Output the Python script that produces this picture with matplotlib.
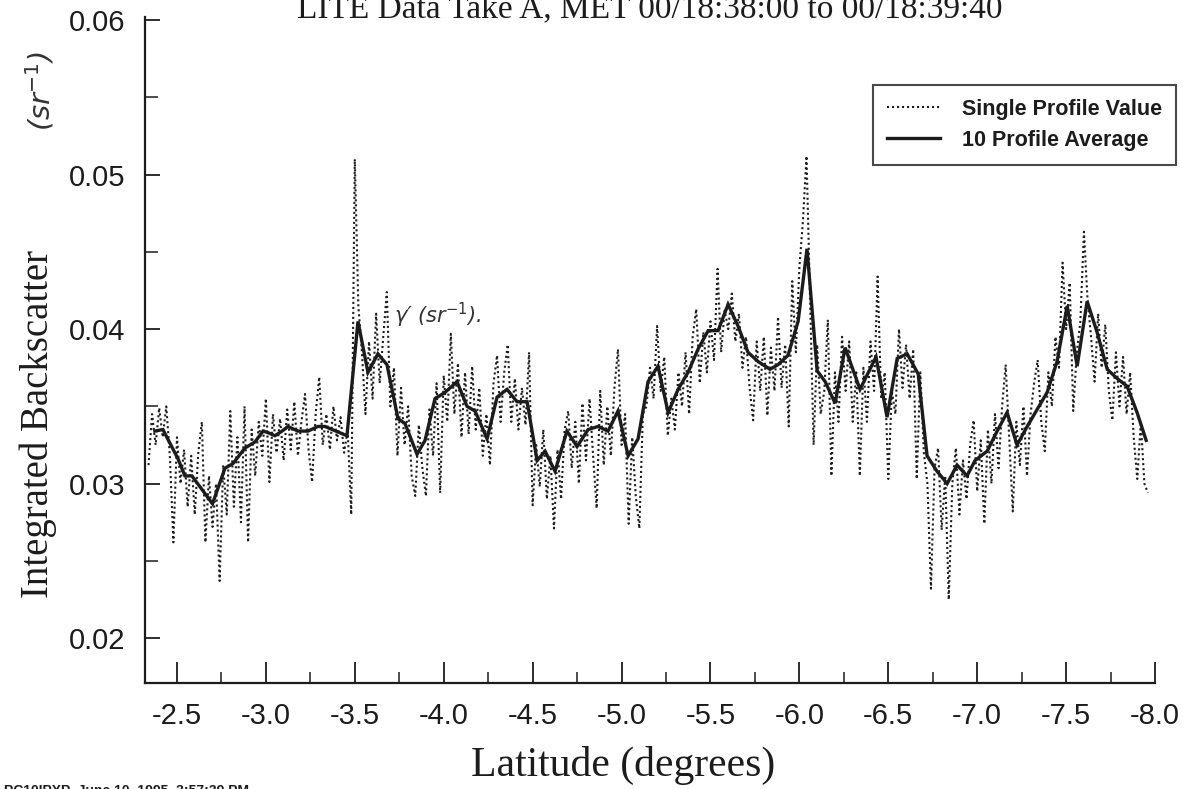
import numpy as np
import matplotlib
matplotlib.use("Agg")
import matplotlib.pyplot as plt
from matplotlib.ticker import MultipleLocator, FormatStrFormatter

# ── Data ─────────────────────────────────────────────────────────────────────
# 10 profile average (solid line)
avg_lat = [-2.376, -2.421, -2.506, -2.545, -2.584, -2.700, -2.770, -2.815, -2.882, -2.939,
           -2.984, -3.012, -3.051, -3.091, -3.124, -3.181, -3.237, -3.293, -3.332, -3.456,
           -3.518, -3.574, -3.630, -3.681, -3.743, -3.782, -3.850, -3.895, -3.951, -4.007,
           -4.075, -4.131, -4.176, -4.244, -4.300, -4.356, -4.412, -4.469, -4.525, -4.570,
           -4.626, -4.693, -4.750, -4.812, -4.868, -4.924, -4.980, -5.037, -5.093, -5.149,
           -5.205, -5.262, -5.318, -5.374, -5.430, -5.487, -5.543, -5.599, -5.655, -5.711,
           -5.768, -5.835, -5.880, -5.936, -5.993, -6.043, -6.100, -6.145, -6.201, -6.257,
           -6.341, -6.431, -6.493, -6.550, -6.606, -6.668, -6.718, -6.774, -6.831, -6.887,
           -6.943, -6.988, -7.056, -7.112, -7.168, -7.224, -7.281, -7.337, -7.393, -7.449,
           -7.506, -7.562, -7.618, -7.674, -7.731, -7.787, -7.843, -7.899, -7.950]
avg_val = [0.0334, 0.0335, 0.0316, 0.0305, 0.0305, 0.0287, 0.0310, 0.0313, 0.0323, 0.0327,
           0.0334, 0.0333, 0.0331, 0.0334, 0.0337, 0.0334, 0.0334, 0.0337, 0.0337, 0.0331,
           0.0405, 0.0372, 0.0384, 0.0377, 0.0342, 0.0339, 0.0319, 0.0328, 0.0355, 0.0359,
           0.0366, 0.0350, 0.0347, 0.0329, 0.0356, 0.0361, 0.0353, 0.0353, 0.0315, 0.0321,
           0.0308, 0.0334, 0.0324, 0.0335, 0.0337, 0.0334, 0.0347, 0.0318, 0.0329, 0.0366,
           0.0376, 0.0346, 0.0361, 0.0372, 0.0387, 0.0399, 0.0399, 0.0416, 0.0402, 0.0385,
           0.0379, 0.0374, 0.0377, 0.0383, 0.0405, 0.0452, 0.0373, 0.0366, 0.0352, 0.0388,
           0.0361, 0.0382, 0.0343, 0.0381, 0.0384, 0.0371, 0.0318, 0.0308, 0.0300, 0.0312,
           0.0305, 0.0315, 0.0321, 0.0334, 0.0346, 0.0325, 0.0337, 0.0348, 0.0359, 0.0379,
           0.0415, 0.0376, 0.0418, 0.0398, 0.0374, 0.0368, 0.0363, 0.0346, 0.0328]

# single profile values (dotted line), one every 0.02 deg from -2.34 to -7.96
single_val = [
    0.0312, 0.0345, 0.0325, 0.0349, 0.0330, 0.0350, 0.0318, 0.0262, 0.0330, 0.0300,
    0.0322, 0.0285, 0.0318, 0.0280, 0.0320, 0.0340, 0.0262, 0.0305, 0.0272, 0.0300,
    0.0237, 0.0312, 0.0280, 0.0347, 0.0285, 0.0330, 0.0275, 0.0350, 0.0262, 0.0335,
    0.0305, 0.0340, 0.0318, 0.0355, 0.0301, 0.0345, 0.0320, 0.0342, 0.0315, 0.0348,
    0.0322, 0.0353, 0.0318, 0.0340, 0.0358, 0.0322, 0.0301, 0.0345, 0.0369, 0.0325,
    0.0345, 0.0322, 0.0350, 0.0328, 0.0343, 0.0320, 0.0335, 0.0280, 0.0510, 0.0415,
    0.0385, 0.0345, 0.0392, 0.0355, 0.0410, 0.0365, 0.0395, 0.0424, 0.0350, 0.0375,
    0.0318, 0.0362, 0.0325, 0.0350, 0.0305, 0.0292, 0.0338, 0.0310, 0.0292, 0.0348,
    0.0318, 0.0365, 0.0294, 0.0370, 0.0340, 0.0397, 0.0345, 0.0378, 0.0330, 0.0372,
    0.0332, 0.0376, 0.0335, 0.0362, 0.0318, 0.0345, 0.0312, 0.0365, 0.0383, 0.0340,
    0.0372, 0.0390, 0.0340, 0.0368, 0.0335, 0.0362, 0.0338, 0.0385, 0.0286, 0.0325,
    0.0298, 0.0335, 0.0290, 0.0318, 0.0271, 0.0322, 0.0290, 0.0335, 0.0347, 0.0310,
    0.0340, 0.0300, 0.0352, 0.0315, 0.0355, 0.0318, 0.0284, 0.0360, 0.0312, 0.0350,
    0.0318, 0.0362, 0.0387, 0.0325, 0.0345, 0.0274, 0.0330, 0.0292, 0.0271, 0.0345,
    0.0350, 0.0375, 0.0355, 0.0402, 0.0360, 0.0382, 0.0331, 0.0355, 0.0335, 0.0372,
    0.0350, 0.0385, 0.0345, 0.0395, 0.0413, 0.0365, 0.0398, 0.0372, 0.0405, 0.0380,
    0.0439, 0.0385, 0.0412, 0.0400, 0.0423, 0.0392, 0.0410, 0.0375, 0.0395, 0.0362,
    0.0341, 0.0392, 0.0360, 0.0395, 0.0344, 0.0388, 0.0360, 0.0408, 0.0362, 0.0390,
    0.0337, 0.0431, 0.0385, 0.0440, 0.0470, 0.0512, 0.0420, 0.0325, 0.0390, 0.0345,
    0.0360, 0.0406, 0.0305, 0.0372, 0.0340, 0.0395, 0.0360, 0.0392, 0.0340, 0.0372,
    0.0305, 0.0375, 0.0340, 0.0392, 0.0360, 0.0434, 0.0355, 0.0372, 0.0303, 0.0360,
    0.0345, 0.0400, 0.0362, 0.0390, 0.0355, 0.0387, 0.0303, 0.0372, 0.0320, 0.0300,
    0.0232, 0.0310, 0.0323, 0.0270, 0.0305, 0.0225, 0.0300, 0.0323, 0.0280, 0.0315,
    0.0290, 0.0325, 0.0341, 0.0295, 0.0328, 0.0274, 0.0335, 0.0300, 0.0345, 0.0310,
    0.0350, 0.0377, 0.0330, 0.0282, 0.0340, 0.0312, 0.0350, 0.0305, 0.0345, 0.0365,
    0.0380, 0.0340, 0.0321, 0.0372, 0.0350, 0.0395, 0.0375, 0.0443, 0.0400, 0.0430,
    0.0347, 0.0385, 0.0405, 0.0463, 0.0420, 0.0395, 0.0366, 0.0410, 0.0375, 0.0403,
    0.0360, 0.0341, 0.0385, 0.0350, 0.0382, 0.0345, 0.0372, 0.0330, 0.0303, 0.0340,
    0.0300, 0.0294,
]
single_lat = np.linspace(-2.34, -7.96, len(single_val))

TITLE = "LITE Data Take A, MET 00/18:38:00 to 00/18:39:40"
FOOTER = "PC10IPXP  June 10, 1995  3:57:39 PM"

INK = "#1c1c1c"

# ── Figure ───────────────────────────────────────────────────────────────────
fig = plt.figure(figsize=(11.92, 7.89), dpi=100, facecolor="white")
ax = fig.add_axes([0.1216, 0.1344, 0.8474, 0.8441])

ax.plot(single_lat, single_val, color=INK, lw=1.5, ls=(0, (1, 1.4)),
        label="Single Profile Value")
ax.plot(avg_lat, avg_val, color=INK, lw=2.4, solid_joinstyle="miter",
        label="10 Profile Average")

ax.set_xlim(-2.32, -8.0)
ax.set_ylim(0.0171, 0.0602)

for side in ("top", "right"):
    ax.spines[side].set_visible(False)
for side in ("left", "bottom"):
    ax.spines[side].set_linewidth(1.6)
    ax.spines[side].set_color(INK)

ax.xaxis.set_major_locator(MultipleLocator(0.5))
ax.xaxis.set_minor_locator(MultipleLocator(0.25))
ax.yaxis.set_major_locator(MultipleLocator(0.01))
ax.yaxis.set_minor_locator(MultipleLocator(0.005))
ax.xaxis.set_major_formatter(FormatStrFormatter("%.1f"))
ax.yaxis.set_major_formatter(FormatStrFormatter("%.2f"))

ax.tick_params(axis="x", which="major", direction="in", length=15, width=1.3,
               pad=14, labelsize=21, colors=INK)
ax.tick_params(axis="x", which="minor", direction="in", length=8, width=1.1, colors=INK)
ax.tick_params(axis="y", which="major", direction="in", length=11, width=1.3,
               pad=14, labelsize=21, colors=INK)
ax.tick_params(axis="y", which="minor", direction="in", length=9, width=1.1, colors=INK)
for lab in ax.get_xticklabels() + ax.get_yticklabels():
    lab.set_family("Liberation Sans")

# legend
leg = ax.legend(loc="upper right", bbox_to_anchor=(1.0208, 0.898), borderaxespad=0,
                frameon=True, fancybox=False, edgecolor=INK, handlelength=2.5,
                handletextpad=1.0, labelspacing=0.45, borderpad=0.65,
                prop={"family": "Liberation Sans", "weight": "bold", "size": 15.5})
leg.get_frame().set_linewidth(1.5)
for t in leg.get_texts():
    t.set_color(INK)

# handwritten note
ax.text(-3.72, 0.0409, "γ′ (sr$^{-1}$).", fontsize=15, family="DejaVu Sans",
        style="italic", color="#333333", ha="left", va="center")

# titles / labels
fig.text(0.545, 1 - 18 / 789, TITLE, ha="center", va="baseline",
         family="Liberation Serif", fontsize=24, color=INK)
fig.text(0.5226, 0.030, "Latitude (degrees)", ha="center", va="center",
         family="Liberation Serif", fontsize=30, color=INK)
fig.text(0.032, 0.462, "Integrated Backscatter", rotation=90, ha="center", va="center",
         family="Liberation Serif", fontsize=28, color=INK)
fig.text(0.034, 0.885, "(sr$^{-1}$)", rotation=90, ha="center", va="center",
         family="DejaVu Sans", style="italic", fontsize=21, color="#333333")
fig.text(0.003, -0.002, FOOTER, ha="left", va="center",
         family="Liberation Sans", weight="bold", fontsize=10, color=INK)

fig.savefig("out.png", dpi=100, facecolor="white")
